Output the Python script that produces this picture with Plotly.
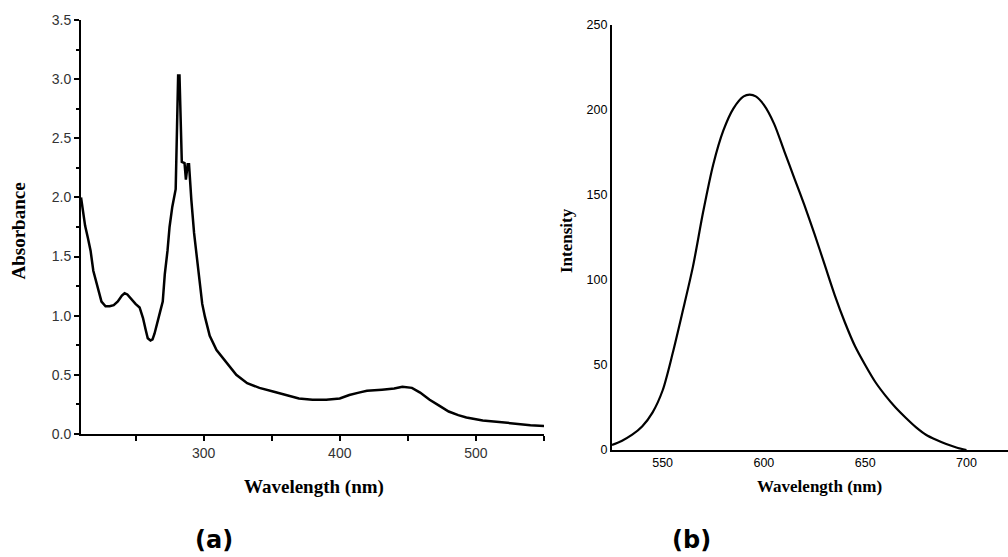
import plotly.graph_objects as go

# Panel (a): UV-Vis absorption
wl_a = [210, 211.5, 213, 215, 217, 219, 221, 223, 225, 228, 231, 234, 237, 240, 242, 244, 247, 250,
        253, 255.5, 257.5, 259, 261, 262.5, 264, 266, 268, 270, 271.5, 273.5, 275, 277, 279.5, 280.5,
        281.3, 282.3, 283, 284, 286, 287, 288.3, 289.3, 291, 293, 295, 297, 299, 301, 304.5, 309.5,
        317, 324, 332, 341, 351, 361, 370, 380, 390, 400, 407, 414, 420, 431, 440, 446, 453, 459,
        466, 473, 480, 487, 493, 505, 517, 530, 540, 550]
absorb = [2.00, 1.86, 1.76, 1.66, 1.55, 1.38, 1.30, 1.20, 1.12, 1.08, 1.08, 1.09, 1.12, 1.17, 1.19, 1.18,
          1.14, 1.10, 1.07, 0.98, 0.88, 0.81, 0.79, 0.80, 0.85, 0.93, 1.03, 1.12, 1.35, 1.55, 1.75, 1.92,
          2.07, 2.60, 3.03, 3.03, 2.75, 2.30, 2.29, 2.15, 2.28, 2.28, 1.98, 1.70, 1.50, 1.28, 1.10, 0.99,
          0.83, 0.71, 0.60, 0.50, 0.43, 0.39, 0.36, 0.33, 0.30, 0.29, 0.29, 0.30, 0.33, 0.35, 0.365,
          0.375, 0.385, 0.40, 0.39, 0.35, 0.29, 0.24, 0.19, 0.16, 0.14, 0.115, 0.10, 0.085, 0.075, 0.068]

# Panel (b): emission spectrum
wl_b = [525, 530, 535, 540, 545, 550, 555, 560, 565, 570, 575, 580, 585, 590, 593, 596, 600,
        605, 610, 615, 620, 625, 630, 635, 640, 645, 650, 655, 660, 665, 670, 675, 680, 685, 690, 695, 700]
intensity = [3, 5.5, 9, 14, 22, 35, 57, 82, 108, 140, 168, 188, 201, 208, 209, 208, 203,
             192, 176, 160, 144, 127, 109, 91, 75, 61, 50, 40, 32, 25, 19, 13.5, 9, 6, 3.5, 1.5, 0]

panel_labels = ["(a)", "(b)"]

fig = go.Figure()
fig.add_trace(go.Scatter(x=wl_a, y=absorb, mode="lines", line=dict(color="black", width=2.5),
                         xaxis="x", yaxis="y", showlegend=False))
fig.add_trace(go.Scatter(x=wl_b, y=intensity, mode="lines",
                         line=dict(color="black", width=2.2, shape="spline", smoothing=0.8),
                         xaxis="x2", yaxis="y2", showlegend=False))

tickfont_a = dict(family="Liberation Sans, Arial", size=14, color="#333")
tickfont_b = dict(family="Liberation Sans Narrow, Arial Narrow, Liberation Sans", size=12.5, color="black")

fig.update_layout(
    width=1008, height=557, margin=dict(l=0, r=0, t=0, b=0, autoexpand=False),
    paper_bgcolor="white", plot_bgcolor="white",
    xaxis=dict(domain=[0.0804, 0.5397], range=[210, 550], anchor="y", automargin=False,
               tickvals=[300, 400, 500], ticks="outside", ticklen=5, tickwidth=2, tickcolor="black",
               showline=True, linewidth=2, linecolor="black", showgrid=False, zeroline=False,
               tickfont=tickfont_a,
               minor=dict(tickvals=[250, 350, 450, 550], ticks="outside", ticklen=5, tickwidth=2,
                          tickcolor="black", showgrid=False)),
    yaxis=dict(domain=[0.2208, 0.9641], range=[0, 3.5], anchor="x", automargin=False,
               dtick=0.5, tickformat=".1f", ticks="outside", ticklen=5, tickwidth=2, tickcolor="black",
               showline=True, linewidth=2, linecolor="black", showgrid=False, zeroline=False,
               tickfont=tickfont_a,
               minor=dict(dtick=0.25, ticks="outside", ticklen=3, tickwidth=2, tickcolor="black",
                          showgrid=False)),
    xaxis2=dict(domain=[0.6071, 1.0], range=[525, 720.5], anchor="y2", automargin=False,
                tickvals=[550, 600, 650, 700], ticks="", showline=True, linewidth=2, linecolor="black",
                showgrid=False, zeroline=False, tickfont=tickfont_b),
    yaxis2=dict(domain=[0.1921, 0.9551], range=[0, 250], anchor="x2", automargin=False,
                tickvals=[0, 50, 100, 150, 200, 250], ticks="", showline=True, linewidth=2,
                linecolor="black", showgrid=False, zeroline=False, tickfont=tickfont_b, ticklabelstandoff=0),
)

title_font = dict(family="Liberation Serif, Times New Roman", size=19, color="black")
title_font_b = dict(family="Liberation Serif, Times New Roman", size=17, color="black")
label_font = dict(family="DejaVu Sans", size=24, color="black")
ann = [
    dict(text="<b>Absorbance</b>", x=0.0179, y=0.5844, textangle=-90, font=title_font),
    dict(text="<b>Wavelength (nm)</b>", x=0.3115, y=0.1257, font=title_font),
    dict(text="<b>Intensity</b>", x=0.5615, y=0.5691, textangle=-90, font=title_font_b),
    dict(text="<b>Wavelength (nm)</b>", x=0.8125, y=0.1257, font=title_font_b),
    dict(text="<b>" + panel_labels[0] + "</b>", x=0.2123, y=0.0305, font=label_font),
    dict(text="<b>" + panel_labels[1] + "</b>", x=0.6865, y=0.0305, font=label_font),
]
for a in ann:
    a.update(xref="paper", yref="paper", showarrow=False, xanchor="center", yanchor="middle")
    fig.add_annotation(**a)

fig.write_html("out.html", config={"displayModeBar": False},
               post_script="document.body.style.margin='0';document.body.style.overflow='hidden';")
